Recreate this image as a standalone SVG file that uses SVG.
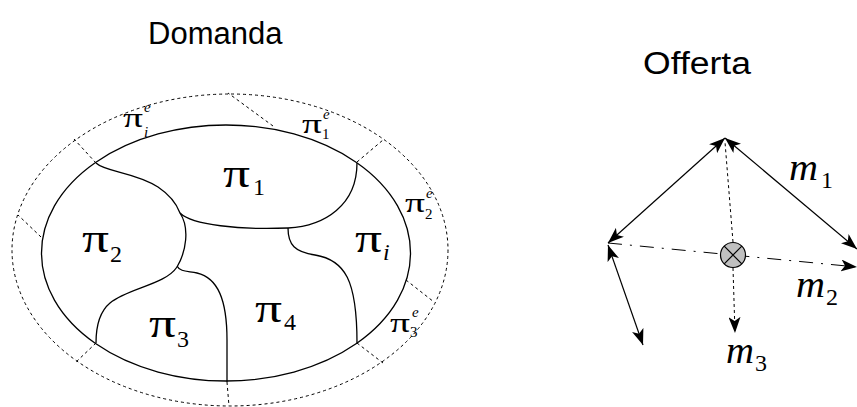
<svg xmlns="http://www.w3.org/2000/svg" width="857" height="407" viewBox="0 0 857 407">
<defs>
<marker id="ah" viewBox="0 0 16 12" refX="16" refY="6" markerWidth="16" markerHeight="12" markerUnits="userSpaceOnUse" orient="auto-start-reverse">
<path d="M0,0 L16,6 L0,12 L4,6 Z" fill="#000"/>
</marker>
</defs>
<style>
.title{font-family:"Liberation Sans",Arial,sans-serif;font-size:31px;fill:#000}
.pi{font-family:"Liberation Serif","Times New Roman",serif;font-size:40px;fill:#000}
.sub{font-family:"Liberation Serif","Times New Roman",serif;font-size:24px;fill:#000}
.spi{font-family:"Liberation Serif","Times New Roman",serif;font-size:27px;fill:#000}
.ssub{font-family:"Liberation Serif","Times New Roman",serif;font-size:15px;fill:#000}
.it{font-style:italic}
.m{font-family:"Liberation Serif","Times New Roman",serif;font-size:37px;font-style:italic;fill:#000}
.solid{fill:none;stroke:#000;stroke-width:1.3}
.dash{fill:none;stroke:#000;stroke-width:1;stroke-dasharray:3,3}
.thin{fill:none;stroke:#000;stroke-width:1.2}
</style>
<rect width="857" height="407" fill="#fff"/>

<g id="titles">
<text class="title" x="148" y="44">Domanda</text>
<text class="title" x="643" y="74" textLength="108" lengthAdjust="spacingAndGlyphs">Offerta</text>
</g>

<g id="domanda">
<ellipse id="outer" class="dash" cx="230" cy="250" rx="218" ry="156"/>
<ellipse id="inner" class="solid" cx="226" cy="253" rx="184.5" ry="128"/>
<g id="dividers">
<path class="solid" d="M96,163 C105,172 135,172 158,187 C170,195 177,205 180,213"/>
<path class="solid" d="M180,213 C192,225 240,230 288,228 C325,226 357,205 357,163"/>
<path class="solid" d="M180,213 C190,228 186,252 177,267 C165,285 128,288 110,303 C98,313 96,330 96,343"/>
<path class="solid" d="M177,266 C180,272 188,271 197,273 C218,278 227,300 227,340 L227,382"/>
<path class="solid" d="M288,228 C288,245 295,252 315,255 C345,260 357,280 357,343"/>
</g>
<g id="outer-dividers">
<path class="dash" d="M96,163 L74,139"/>
<path class="dash" d="M41,237 L18,215"/>
<path class="dash" d="M273,126 L228,93"/>
<path class="dash" d="M357,162 L383,140"/>
<path class="dash" d="M406,280 L434,302"/>
<path class="dash" d="M357,343 L383,363"/>
<path class="dash" d="M96,343 L75,363"/>
<path class="dash" d="M227,382 L229,406"/>
</g>
<g id="region-labels">
<g id="pi1"><text class="pi" x="223" y="187" textLength="27" lengthAdjust="spacingAndGlyphs">π</text><text class="sub" x="253" y="195">1</text></g>
<g id="pi2"><text class="pi" x="82" y="252" textLength="27" lengthAdjust="spacingAndGlyphs">π</text><text class="sub" x="110" y="262">2</text></g>
<g id="pi3"><text class="pi" x="149" y="337" textLength="27" lengthAdjust="spacingAndGlyphs">π</text><text class="sub" x="177" y="347">3</text></g>
<g id="pi4"><text class="pi" x="255" y="322" textLength="27" lengthAdjust="spacingAndGlyphs">π</text><text class="sub" x="284" y="330">4</text></g>
<g id="pii"><text class="pi" x="355" y="252" textLength="27" lengthAdjust="spacingAndGlyphs">π</text><text class="sub it" x="383" y="260">i</text></g>
</g>
<g id="external-labels">
<g id="piei"><text class="spi" x="123" y="127" textLength="20" lengthAdjust="spacingAndGlyphs">π</text><text class="ssub it" x="144" y="112">e</text><text class="ssub it" x="144" y="137">i</text></g>
<g id="pie1"><text class="spi" x="302" y="133" textLength="20" lengthAdjust="spacingAndGlyphs">π</text><text class="ssub it" x="323" y="119">e</text><text class="ssub" x="322" y="139">1</text></g>
<g id="pie2"><text class="spi" x="405" y="212" textLength="20" lengthAdjust="spacingAndGlyphs">π</text><text class="ssub it" x="426" y="198">e</text><text class="ssub" x="425" y="219">2</text></g>
<g id="pie3"><text class="spi" x="390" y="332" textLength="20" lengthAdjust="spacingAndGlyphs">π</text><text class="ssub it" x="412" y="317">e</text><text class="ssub" x="410" y="337">3</text></g>
</g>
</g>

<g id="offerta">
<g id="connectors">
<line class="thin" x1="725" y1="138" x2="608" y2="243" marker-start="url(#ah)" marker-end="url(#ah)"/>
<line class="thin" x1="725" y1="138" x2="857" y2="249" marker-start="url(#ah)" marker-end="url(#ah)"/>
<line class="thin" x1="608" y1="245" x2="643" y2="345" marker-start="url(#ah)" marker-end="url(#ah)"/>
<line fill="none" stroke="#000" stroke-width="1" stroke-dasharray="3,3" x1="733" y1="242" x2="725" y2="142"/>
<line fill="none" stroke="#000" stroke-width="1" stroke-dasharray="3,3" x1="733" y1="268" x2="735" y2="333" marker-end="url(#ah)"/>
<line fill="none" stroke="#000" stroke-width="1" stroke-dasharray="14,8,2,8" x1="608" y1="243" x2="857" y2="267" marker-end="url(#ah)"/>
</g>
<g id="center">
<circle cx="733" cy="255" r="12.5" fill="#c0c0c0" stroke="#000" stroke-width="1.2"/>
<path d="M724.2,246.2 L741.8,263.8 M741.8,246.2 L724.2,263.8" stroke="#000" stroke-width="1.2"/>
</g>
<g id="m-labels">
<g id="m1"><text class="m" x="789" y="180" textLength="29" lengthAdjust="spacingAndGlyphs">m</text><text class="sub" x="821" y="188">1</text></g>
<g id="m2"><text class="m" x="796" y="297" textLength="29" lengthAdjust="spacingAndGlyphs">m</text><text class="sub" x="826" y="305">2</text></g>
<g id="m3"><text class="m" x="726" y="363" textLength="28" lengthAdjust="spacingAndGlyphs">m</text><text class="sub" x="755" y="371">3</text></g>
</g>
</g>
</svg>
